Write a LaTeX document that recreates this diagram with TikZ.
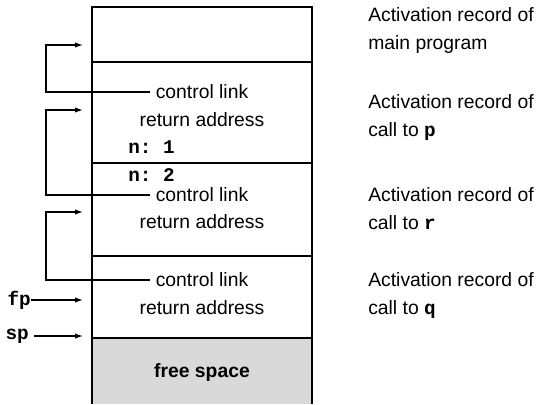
\documentclass[tikz,border=0pt]{standalone}
\usepackage{fontspec}
\setmainfont{Liberation Sans}
\setmonofont{Liberation Mono}
\usetikzlibrary{positioning,arrows.meta}

\begin{document}
\begin{tikzpicture}[
			x=0.75pt, y=-0.75pt,
			>={Latex[length=6pt,width=4pt]},
			txt/.style={
				inner sep=0pt,
				font=\fontsize{14.5}{21}\selectfont
			},
			code/.style={
				inner sep=0pt,
				font=\fontsize{14.5}{16}\selectfont\ttfamily\bfseries
			},
			side/.style={
				inner sep=0pt,
				anchor=west,
				align=left,
				font=\fontsize{14.5}{21}\selectfont
			},
			wall/.style={line width=1.3pt},
			link/.style={line width=0.9pt}
			]
			
			\useasboundingbox (0,0) rectangle (545,404);
			
			%--------------------------------------------------
			% Stack
			%--------------------------------------------------
			
			\fill[black!15] (92,338) rectangle (312,404);
			
			\draw[wall] (92,404) -- (92,7) -- (312,7) -- (312,404);
			\draw[wall] (92,62) -- (312,62);
			\draw[wall] (92,163) -- (312,163);
			\draw[wall] (92,256) -- (312,256);
			\draw[wall] (92,338) -- (312,338);
			
			%--------------------------------------------------
			% Record Contents
			%--------------------------------------------------
			
			\node[txt] (cl1) at (202,92) {control link};
			\node[txt] (ra1) at (202,120) {return address};
			\node[code,anchor=west] (n1) at (128,147) {n:~1};
			
			\node[code,anchor=west] (n2) at (128,175) {n:~2};
			\node[txt] (cl2) at (202,195) {control link};
			\node[txt] (ra2) at (202,222) {return address};
			
			\node[txt] (cl3) at (202,280) {control link};
			\node[txt] (ra3) at (202,308) {return address};
			
			\node[txt,font=\fontsize{14.5}{16}\selectfont\bfseries] (free) at (202,372) {free space};
			
			%--------------------------------------------------
			% Pointers
			%--------------------------------------------------
			
			\coordinate (rail) at (46,0);
			\coordinate (ret1) at (83,45);
			\coordinate (ret2) at (83,110);
			\coordinate (ret3) at (83,212);
			\coordinate (fptip) at (83,300);
			\coordinate (sptip) at (83,336);
			
			\node[code,anchor=east] (fp) at (31,300) {fp};
			\node[code,anchor=east] (sp) at (29,336) {sp};
			
			\draw[->,link] ([xshift=-4pt]cl1.west) -- (cl1.west -| rail) |- (ret1);
			\draw[->,link] ([xshift=-4pt]cl2.west) -- (cl2.west -| rail) |- (ret2);
			\draw[->,link] ([xshift=-4pt]cl3.west) -- (cl3.west -| rail) |- (ret3);
			
			\draw[->,link] (fp.east) -- (fptip);
			\draw[->,link] ([xshift=4pt]sp.east) -- (sptip);
			
			%--------------------------------------------------
			% Side Labels
			%--------------------------------------------------
			
			\node[side] (main) at (368,30) {Activation record of\\main program};
			\node[side] (recp) at (368,117) {Activation record of\\call to \texttt{\bfseries p}};
			\node[side] (recr) at (368,209) {Activation record of\\call to \texttt{\bfseries r}};
			\node[side] (recq) at (368,295) {Activation record of\\call to \texttt{\bfseries q}};
			
		\end{tikzpicture}
\end{document}
